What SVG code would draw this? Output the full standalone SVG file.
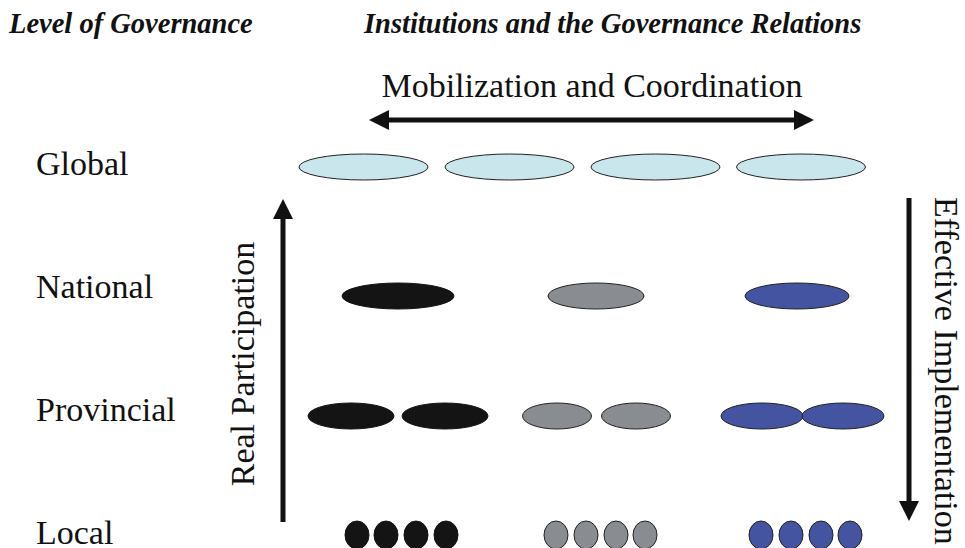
<svg xmlns="http://www.w3.org/2000/svg" width="965" height="548" viewBox="0 0 965 548">
<defs>
<style>
.hdr{font-family:"Liberation Serif","Times New Roman",serif;font-weight:bold;font-style:italic;font-size:28.5px;fill:#111}
.lbl{font-family:"Liberation Serif","Times New Roman",serif;font-size:34px;fill:#111}
.glob{fill:#c9e6ec;stroke:#222;stroke-width:1}
.blk{fill:#141414;stroke:#141414;stroke-width:1}
.gry{fill:#898d91;stroke:#222;stroke-width:1}
.blu{fill:#4454a0;stroke:#222;stroke-width:1}
.conn{stroke:#111;stroke-width:5;fill:none}
</style>
<marker id="ah" viewBox="0 0 10 10" refX="2" refY="5" markerWidth="4.4" markerHeight="4" orient="auto-start-reverse" markerUnits="strokeWidth">
<path d="M0,0 L10,5 L0,10 z" fill="#111"/>
</marker>
</defs>
<rect width="965" height="548" fill="#fff"/>
<text class="hdr" x="9" y="33">Level of Governance</text>
<text class="hdr" x="364" y="33">Institutions and the Governance Relations</text>
<text class="lbl" x="592" y="97" text-anchor="middle">Mobilization and Coordination</text>
<g id="level-labels">
<text class="lbl" x="36" y="175">Global</text>
<text class="lbl" x="36" y="298">National</text>
<text class="lbl" x="36" y="421">Provincial</text>
<text class="lbl" x="36" y="544">Local</text>
</g>
<g id="connectors">
<line class="conn" x1="385" y1="120" x2="798" y2="120" marker-start="url(#ah)" marker-end="url(#ah)"/>
<line class="conn" x1="283" y1="522" x2="283" y2="215" marker-end="url(#ah)"/>
<line class="conn" x1="909" y1="198" x2="909" y2="505" marker-end="url(#ah)"/>
</g>
<text class="lbl" transform="translate(254,364) rotate(-90)" text-anchor="middle">Real Participation</text>
<text class="lbl" transform="translate(935,197) rotate(90)">Effective Implementation</text>
<g id="global">
<ellipse class="glob" cx="363.5" cy="167" rx="64.5" ry="13"/>
<ellipse class="glob" cx="509.5" cy="167" rx="64.5" ry="13"/>
<ellipse class="glob" cx="655.5" cy="167" rx="64.5" ry="13"/>
<ellipse class="glob" cx="801" cy="167" rx="64.5" ry="13"/>
</g>
<g id="national">
<ellipse class="blk" cx="398" cy="296" rx="56" ry="13"/>
<ellipse class="gry" cx="596" cy="296" rx="48" ry="13"/>
<ellipse class="blu" cx="797" cy="296" rx="52" ry="13"/>
</g>
<g id="provincial">
<ellipse class="blk" cx="351" cy="416" rx="43" ry="13"/>
<ellipse class="blk" cx="445" cy="416" rx="43" ry="13"/>
<ellipse class="gry" cx="557" cy="416" rx="34.5" ry="13"/>
<ellipse class="gry" cx="636" cy="416" rx="34.5" ry="13"/>
<ellipse class="blu" cx="762" cy="416" rx="41" ry="13"/>
<ellipse class="blu" cx="843" cy="416" rx="41" ry="13"/>
</g>
<g id="local">
<ellipse class="blk" cx="357" cy="535" rx="12" ry="14"/>
<ellipse class="blk" cx="386" cy="535" rx="12" ry="14"/>
<ellipse class="blk" cx="416" cy="535" rx="12" ry="14"/>
<ellipse class="blk" cx="446" cy="535" rx="12" ry="14"/>
<ellipse class="gry" cx="556" cy="535" rx="12" ry="14"/>
<ellipse class="gry" cx="586" cy="535" rx="12" ry="14"/>
<ellipse class="gry" cx="616" cy="535" rx="12" ry="14"/>
<ellipse class="gry" cx="645" cy="535" rx="12" ry="14"/>
<ellipse class="blu" cx="761" cy="535" rx="12" ry="14"/>
<ellipse class="blu" cx="791" cy="535" rx="12" ry="14"/>
<ellipse class="blu" cx="821" cy="535" rx="12" ry="14"/>
<ellipse class="blu" cx="850" cy="535" rx="12" ry="14"/>
</g>
</svg>
